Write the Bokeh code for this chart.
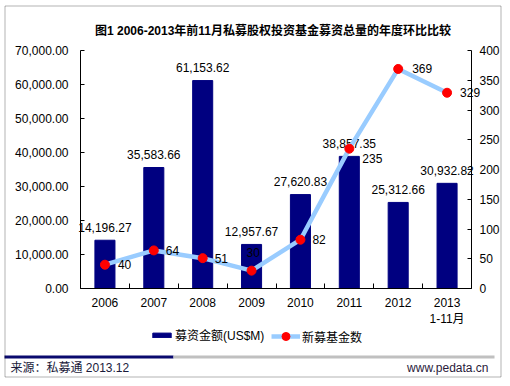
from bokeh.plotting import figure
from bokeh.models import (Range1d, LinearAxis, FixedTicker, NumeralTickFormatter,
                          Label, BoxAnnotation, Legend, LegendItem)
from bokeh.core.properties import value
from bokeh.embed import file_html
from bokeh.resources import INLINE

# ---- data ----
years = ["2006", "2007", "2008", "2009", "2010", "2011", "2012", "2013\n1-11月"]
amount = [14196.27, 35583.66, 61153.62, 12957.67, 27620.83, 38857.35, 25312.66, 30932.82]
funds = [40, 64, 51, 30, 82, 235, 369, 329]
amount_labels = ["14,196.27", "35,583.66", "61,153.62", "12,957.67",
                 "27,620.83", "38,857.35", "25,312.66", "30,932.82"]
fund_labels = ["40", "64", "51", "30", "82", "235", "369", "329"]
left_ticks = [0, 10000, 20000, 30000, 40000, 50000, 60000, 70000]
right_ticks = [0, 50, 100, 150, 200, 250, 300, 350, 400]

title_text = "图1 2006-2013年前11月私募股权投资基金募资总量的年度环比比较"
bar_name = "募资金额(US$M)"
line_name = "新募基金数"
source_text = "来源：私募通  2013.12"
site_text = "www.pedata.cn"

# ---- style / layout ----
FONT = "Liberation Sans, Noto Sans CJK SC"
BAR_C = "#000080"
LINE_C = "#99CCFF"
DOT_C = "#FF0000"

W, H = 502, 378
PL, PR, PT, PB = 80, 471, 50, 288      # plot area in canvas pixels
n = len(years)
xs = list(range(n))
LMAX, RMAX = 70000, 400

xu = n / (PR - PL)
x_start = -0.5 - PL * xu
x_end = n - 0.5 + (W - PR) * xu
lu = LMAX / (PB - PT)
ru = RMAX / (PB - PT)

p = figure(width=W, height=H, output_backend="svg", toolbar_location=None, title=None,
           x_range=Range1d(x_start, x_end),
           y_range=Range1d(-(H - PB) * lu, LMAX + PT * lu))
p.extra_y_ranges = {"n": Range1d(-(H - PB) * ru, RMAX + PT * ru)}
p.min_border = 0
p.min_border_left = 0
p.min_border_right = 0
p.min_border_top = 0
p.min_border_bottom = 0
p.outline_line_color = None
p.xgrid.visible = False
p.ygrid.visible = False
p.background_fill_color = "white"
p.border_fill_color = "white"

# x axis
xa = p.xaxis[0]
xa.fixed_location = 0
xa.bounds = (-0.5, n - 0.5)
xa.ticker = FixedTicker(ticks=xs, minor_ticks=[i - 0.5 for i in range(n + 1)])
xa.major_label_overrides = {i: years[i] for i in xs}
xa.major_tick_in = 0
xa.major_tick_out = 0
xa.minor_tick_in = 5
xa.minor_tick_out = 0
xa.minor_tick_line_color = "black"
xa.axis_line_color = "black"
xa.major_label_standoff = 7
xa.major_label_text_font = FONT
xa.major_label_text_font_size = "12px"
xa.major_label_text_color = "black"

# left axis
ya = p.yaxis[0]
ya.fixed_location = -0.5
ya.bounds = (0, LMAX)
ya.ticker = FixedTicker(ticks=left_ticks)
ya.formatter = NumeralTickFormatter(format="0,0.00")
ya.major_tick_in = 4
ya.major_tick_out = 0
ya.minor_tick_in = 0
ya.minor_tick_out = 0
ya.major_label_standoff = 12
ya.major_label_text_font = FONT
ya.major_label_text_font_size = "12px"
ya.major_label_text_color = "black"
ya.axis_line_color = "black"

# right axis
ra = LinearAxis(y_range_name="n", ticker=FixedTicker(ticks=right_ticks))
ra.fixed_location = n - 0.5
ra.bounds = (0, RMAX)
ra.major_tick_in = 4
ra.major_tick_out = 0
ra.minor_tick_in = 0
ra.minor_tick_out = 0
ra.major_label_standoff = 8
ra.major_label_text_font = FONT
ra.major_label_text_font_size = "12px"
ra.major_label_text_color = "black"
ra.axis_line_color = "black"
p.add_layout(ra, "right")

# bars
bars = p.vbar(x=xs, top=amount, width=0.41, fill_color=BAR_C, line_color=BAR_C)
p.text(x=xs, y=amount, text=amount_labels, text_align="center", text_baseline="middle",
       y_offset=-13, text_font=value(FONT), text_font_size="12px", text_color="black")

# line
ln = p.line(x=xs, y=funds, y_range_name="n", line_color=LINE_C, line_width=4.5)
pts = p.scatter(x=xs, y=funds, y_range_name="n", size=9, fill_color=DOT_C, line_color=DOT_C)
fx_off = [13, 12, 12, -5, 12, 13, 14, 13]
fy_off = [0, 0, 0, -18, 0, 10, 0, 0]
p.text(x=xs, y=funds, y_range_name="n", text=fund_labels, text_align="left",
       text_baseline="middle", x_offset=fx_off, y_offset=fy_off,
       text_font=value(FONT), text_font_size="12px", text_color="black")

# legends
leg1 = Legend(items=[LegendItem(label=bar_name, renderers=[bars])],
              location=(150, H - 343), orientation="horizontal",
              glyph_width=23, glyph_height=6, label_height=14, label_standoff=2,
              padding=0, margin=0, spacing=0, border_line_color=None,
              background_fill_alpha=0, label_text_font=FONT, label_text_font_size="12px",
              label_text_color="black")
leg2 = Legend(items=[LegendItem(label=line_name, renderers=[ln, pts])],
              location=(271, H - 346), orientation="horizontal",
              glyph_width=29, glyph_height=20, label_height=14, label_standoff=2,
              padding=0, margin=0, spacing=0, border_line_color=None,
              background_fill_alpha=0, label_text_font=FONT, label_text_font_size="12px",
              label_text_color="black")
p.add_layout(leg1, "center")
p.add_layout(leg2, "center")

# title
p.add_layout(Label(x=272.5, y=H - 30, x_units="screen", y_units="screen", text=title_text,
                   text_align="center", text_baseline="middle", text_font=FONT,
                   text_font_size="12px", text_font_style="bold", text_color="black"))

# footer strip
p.add_layout(BoxAnnotation(left=4, right=173, top=H - 355, bottom=H - 358,
                           left_units="screen", right_units="screen",
                           top_units="screen", bottom_units="screen",
                           fill_color="#0A0A6E", fill_alpha=1, line_color=None))
p.add_layout(BoxAnnotation(left=173, right=494, top=H - 355, bottom=H - 358,
                           left_units="screen", right_units="screen",
                           top_units="screen", bottom_units="screen",
                           fill_color="#C0C0C0", fill_alpha=1, line_color=None))
# footer text
p.add_layout(Label(x=10, y=H - 367, x_units="screen", y_units="screen", text=source_text,
                   text_align="left", text_baseline="middle", text_font=FONT,
                   text_font_size="12px", text_color="#1a1a3a"))
p.add_layout(Label(x=488, y=H - 367, x_units="screen", y_units="screen", text=site_text,
                   text_align="right", text_baseline="middle", text_font=FONT,
                   text_font_size="12px", text_color="#2a1a3a"))
# outer border
p.add_layout(BoxAnnotation(left=4.5, right=500.5, top=H - 5.5, bottom=H - 376.5,
                           left_units="screen", right_units="screen",
                           top_units="screen", bottom_units="screen",
                           fill_alpha=0, line_color="black", line_width=1))

open("out.html", "w").write(file_html(p, INLINE))
